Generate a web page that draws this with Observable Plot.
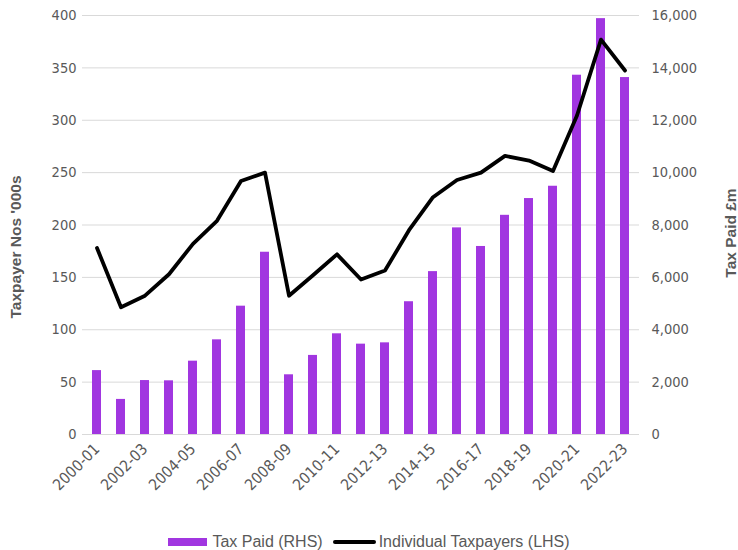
<!DOCTYPE html>
<html>
<head>
<meta charset="utf-8">
<script src="https://cdn.jsdelivr.net/npm/d3@7"></script>
<script src="https://cdn.jsdelivr.net/npm/@observablehq/plot@0.6"></script>
<style>
  html, body { margin: 0; padding: 0; background: #fff; }
  #wrap { width: 738px; height: 550px; position: relative; overflow: hidden; }
  #legend { position: absolute; left: 0; top: 529px; width: 738px; height: 25px;
    display: flex; justify-content: center; align-items: center;
    font-family: "Liberation Sans", Arial, sans-serif; font-size: 16px; color: #595959; }
  .sw { display: inline-block; width: 39px; height: 8px; background: #a136e0; margin-right: 5px; }
  .ln { display: inline-block; width: 43px; height: 4px; background: #000; border-radius: 2px; margin: 0 3px 0 10px; }
  #chart svg [aria-label="x-axis tick label"] { font-size: 15.5px; }
  #chart svg [aria-label="y-axis tick label"] { font-size: 14.5px; }
</style>
</head>
<body>
<div id="wrap">
  <div id="chart"></div>
  <div id="legend"><span class="sw"></span><span>Tax Paid (RHS)</span><span class="ln"></span><span>Individual Taxpayers (LHS)</span></div>
</div>
<script>
const years = ["2000-01","2001-02","2002-03","2003-04","2004-05","2005-06","2006-07","2007-08","2008-09","2009-10","2010-11","2011-12","2012-13","2013-14","2014-15","2015-16","2016-17","2017-18","2018-19","2019-20","2020-21","2021-22","2022-23"];
const taxPaid = [2440, 1340, 2060, 2050, 2800, 3615, 4900, 6960, 2280, 3020, 3845, 3450, 3500, 5070, 6220, 7890, 7180, 8370, 9010, 9480, 13720, 15880, 13630];
const taxpayers = [178, 121.5, 132.5, 153, 182, 204, 242, 250, 132.5, 152, 172, 148, 156.5, 195, 226.5, 243, 250, 266, 261.5, 251.5, 304.5, 377, 347.5];
const leftTicks = [0, 50, 100, 150, 200, 250, 300, 350, 400];
const rightTicks = [0, 2000, 4000, 6000, 8000, 10000, 12000, 14000, 16000];
const xTickLabels = years.filter((d, i) => i % 2 === 0);
const ratio = 40; // right-axis units per left-axis unit

const data = years.map((y, i) => ({year: y, tax: taxPaid[i], people: taxpayers[i]}));
const fontAxis = "'DejaVu Sans Condensed', 'DejaVu Sans', sans-serif";
const grey = "#595959";

const chart = Plot.plot({
  width: 738,
  height: 525,
  marginTop: 15,
  marginBottom: 91,
  marginLeft: 82,
  marginRight: 99,
  style: {fontFamily: fontAxis, background: "#fff"},
  x: {type: "band", domain: years, paddingInner: 0.615, paddingOuter: 0.3075},
  y: {domain: [0, 400]},
  marks: [
    Plot.gridY(leftTicks, {stroke: "#d9d9d9", strokeOpacity: 1, strokeWidth: 1}),
    Plot.barY(data, {x: "year", y: d => d.tax / ratio, fill: "#a136e0"}),
    Plot.line(data, {x: "year", y: "people", stroke: "#000", strokeWidth: 3.8, strokeLinejoin: "round", strokeLinecap: "round"}),
    Plot.axisY(leftTicks, {anchor: "left", tickSize: 0, tickPadding: 6, fontSize: 14.5, color: grey, label: null}),
    Plot.axisY(rightTicks.map(v => v / ratio), {anchor: "right", tickSize: 0, tickPadding: 12, fontSize: 14.5, color: grey, label: null,
      tickFormat: d => d3.format(",")(Math.round(d * ratio))}),
    Plot.axisX(xTickLabels, {anchor: "bottom", tickSize: 0, tickPadding: 12, tickRotate: -45, fontSize: 15.5, color: grey, label: null}),
    Plot.text(["Taxpayer Nos '000s"], {frameAnchor: "left", dx: -66, dy: 22, rotate: -90, fontSize: 15.5, fontWeight: "bold",
      fontFamily: "'Liberation Sans', Arial, sans-serif", fill: grey, textAnchor: "middle", lineAnchor: "middle"}),
    Plot.text(["Tax Paid £m"], {frameAnchor: "right", dx: 92, dy: 8, rotate: -90, fontSize: 15.5, fontWeight: "bold",
      fontFamily: "'Liberation Sans', Arial, sans-serif", fill: grey, textAnchor: "middle", lineAnchor: "middle"})
  ]
});
document.getElementById("chart").appendChild(chart);
</script>
</body>
</html>
